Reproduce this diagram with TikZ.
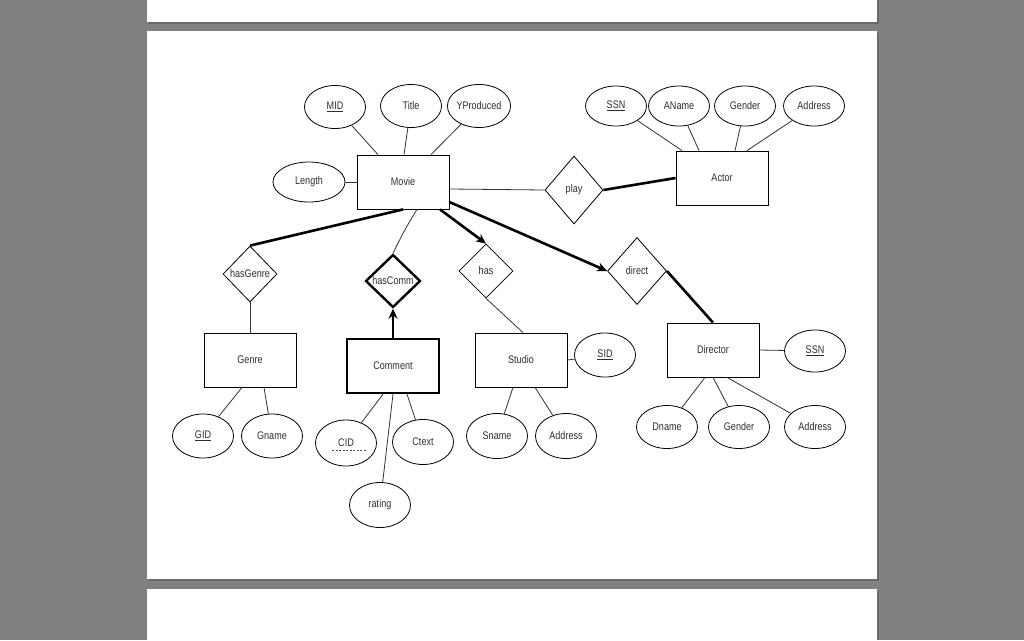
\documentclass[tikz,border=0pt]{standalone}
\usepackage{fontspec}
\setmainfont{Liberation Sans}
\newfontfamily\diafont[FakeStretch=0.82]{Liberation Sans}
\usetikzlibrary{shapes.geometric,arrows.meta}
\definecolor{bggray}{RGB}{128,128,128}
\definecolor{shadowgray}{RGB}{105,105,105}
\definecolor{txt}{RGB}{45,45,45}
\tikzset{
  every node/.style={font=\diafont\fontsize{11}{12}\selectfont, text=txt},
  attr/.style={ellipse, draw=black, line width=0.8pt, minimum width=61pt, minimum height=43pt, inner sep=0pt},
  ent/.style={rectangle, draw=black, line width=0.8pt, minimum width=92pt, minimum height=54pt, inner sep=0pt},
  weakent/.style={ent, line width=2.4pt},
  rel/.style={diamond, draw=black, line width=0.8pt, inner sep=0pt, aspect=1},
  thin/.style={draw=black!80, line width=0.8pt},
  thick/.style={draw=black, line width=2.6pt},
  arr/.style={thick, -{Stealth[length=10pt,width=9pt]}},
  page/.style={fill=white, draw=none},
  shadow/.style={fill=shadowgray, draw=none}
}
\begin{document}
\begin{tikzpicture}[x=1pt,y=-1pt]
% background and pages
\fill[bggray] (0,0) rectangle (1024,640);
\useasboundingbox (0,0) rectangle (1024,640);
\fill[shadow] (149,0) rectangle (879,24);
\fill[page] (147,0) rectangle (877,22);
\fill[shadow] (149,33) rectangle (879,581);
\fill[page] (147,31) rectangle (877,579);
\fill[shadow] (149,591) rectangle (879,640);
\fill[page] (147,589) rectangle (877,640);

% entities
\node[ent] (movie) at (403,182) {Movie};
\node[ent] (actor) at (722,178) {Actor};
\node[ent] (genre) at (250,360) {Genre};
\node[weakent] (comment) at (393,366) {Comment};
\node[ent] (studio) at (521,360) {Studio};
\node[ent] (director) at (713,350) {Director};

% relationships
\node[rel, minimum width=58pt, minimum height=68pt] (play) at (574,190) {play};
\node[rel, minimum width=54pt, minimum height=56pt] (hasgenre) at (250,274) {hasGenre};
\node[rel, minimum width=55pt, minimum height=53pt, line width=2.4pt] (hascomm) at (393,281) {hasComm};
\node[rel, minimum width=54pt, minimum height=54pt] (has) at (486,271) {has};
\node[rel, minimum width=59pt, minimum height=67pt] (direct) at (637,271) {direct};

% attributes of Movie
\node[attr] (mid) at (335,107) {\underline{MID}};
\node[attr] (title) at (411,106) {Title};
\node[attr] (yprod) at (479,106) {YProduced};
\node[attr, minimum width=72pt, minimum height=40pt] (length) at (309,182) {Length};

% attributes of Actor
\node[attr, minimum height=40pt] (assn) at (616,106) {\underline{SSN}};
\node[attr, minimum height=40pt] (aname) at (679,106) {AName};
\node[attr, minimum height=40pt] (agender) at (745,106) {Gender};
\node[attr, minimum height=40pt] (aaddr) at (814,106) {Address};

% attributes of Genre
\node[attr, minimum height=44pt] (gid) at (203,436) {\underline{GID}};
\node[attr, minimum height=44pt] (gname) at (272,436) {Gname};

% attributes of Comment
\node[attr, minimum height=46pt] (cid) at (346,443) {CID};
\node[attr, minimum height=45pt] (ctext) at (423,442) {Ctext};
\node[attr, minimum height=45pt] (rating) at (380,505) {rating};
\draw[black!70, line width=0.7pt, dash pattern=on 2pt off 1.5pt] ([xshift=-14pt,yshift=-7pt]cid.center) coordinate (cidl) -- ([xshift=20pt,yshift=-7pt]cid.center) coordinate (cidr);

% attributes of Studio
\node[attr, minimum height=44pt] (sid) at (605,355) {\underline{SID}};
\node[attr, minimum height=45pt] (sname) at (497,436) {Sname};
\node[attr, minimum height=45pt] (saddr) at (566,436) {Address};

% attributes of Director
\node[attr, minimum height=42pt] (dssn) at (815,351) {\underline{SSN}};
\node[attr] (dname) at (667,427) {Dname};
\node[attr] (dgender) at (739,427) {Gender};
\node[attr] (daddr) at (815,427) {Address};

% attribute connectors
\draw[thin] (mid) -- ([xshift=-25pt]movie.north);
\draw[thin] (title) -- ([xshift=1pt]movie.north);
\draw[thin] (yprod) -- ([xshift=28pt]movie.north);
\draw[thin] (length) -- (movie.west);

\draw[thin] (assn) -- ([xshift=-40pt]actor.north);
\draw[thin] (aname) -- ([xshift=-23pt]actor.north);
\draw[thin] (agender) -- ([xshift=13pt]actor.north);
\draw[thin] (aaddr) -- ([xshift=25pt]actor.north);

\draw[thin] ([xshift=-8pt]genre.south) -- (gid);
\draw[thin] ([xshift=14pt]genre.south) -- (gname);

\draw[thin] ([xshift=-10pt]comment.south) -- (cid);
\draw[thin] (comment.south) -- (rating);
\draw[thin] ([xshift=14pt]comment.south) -- (ctext);

\draw[thin] (studio.east) -- (sid);
\draw[thin] ([xshift=-8pt]studio.south) -- (sname);
\draw[thin] ([xshift=14pt]studio.south) -- (saddr);

\draw[thin] (director.east) -- (dssn);
\draw[thin] ([xshift=-8pt]director.south) -- (dname);
\draw[thin] (director.south) -- (dgender);
\draw[thin] ([xshift=14pt]director.south) -- (daddr);

% relationship connectors
\draw[thin] ([yshift=-7pt]movie.east) -- (play.west);
\draw[thick] (play.east) -- (actor.west);
\draw[thick] (movie.south) -- (hasgenre.north);
\draw[thin] (hasgenre.south) -- (genre.north);
\draw[thin] ([xshift=14pt]movie.south) to[bend right=3] (hascomm.north);
\draw[arr] (comment.north) -- (hascomm.south);
\draw[arr] ([xshift=37pt]movie.south) -- (has.north);
\draw[thin] (has.south) -- ([xshift=2pt]studio.north);
\draw[arr] ([yshift=-20pt]movie.east) -- (direct.west);
\draw[thick] (direct.east) -- (director.north);
\end{tikzpicture}
\end{document}
